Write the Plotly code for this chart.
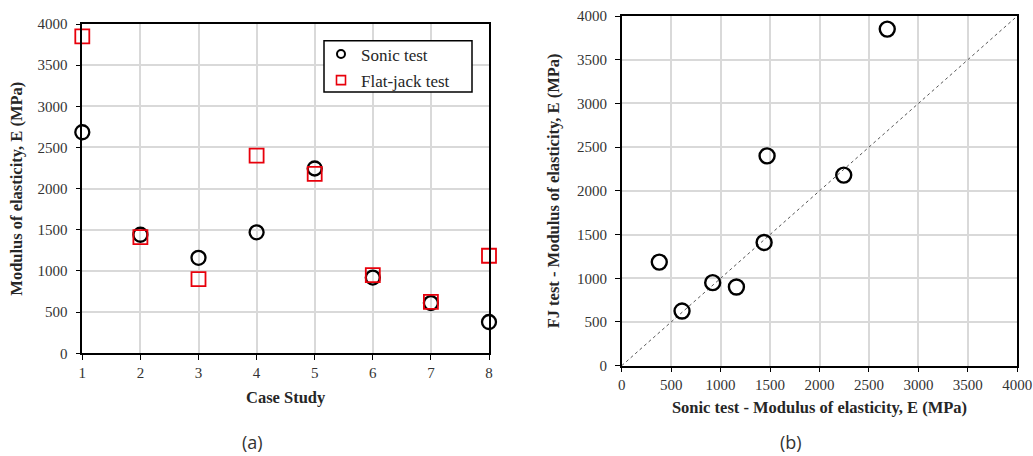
import plotly.graph_objects as go

case_study = [1, 2, 3, 4, 5, 6, 7, 8]
sonic_E = [2685, 1440, 1160, 1470, 2245, 920, 610, 380]
flatjack_E = [3850, 1410, 900, 2400, 2180, 950, 625, 1185]
diag_line = [0, 4000]
tick_vals_E = [0, 500, 1000, 1500, 2000, 2500, 3000, 3500, 4000]
panel_labels = ["(a)", "(b)"]

W, H = 1033, 456
SERIF = "Liberation Serif"
TICK = dict(family=SERIF, size=15, color="#333333")
TITLE = dict(family=SERIF, size=16.5, color="#262626", weight="bold")

fig = go.Figure()

# Panel (a)
fig.add_trace(go.Scatter(x=case_study, y=sonic_E, mode="markers", name="Sonic test",
                         marker=dict(symbol="circle-open", size=14, color="black", line=dict(width=2.3)),
                         cliponaxis=False, showlegend=False, xaxis="x", yaxis="y"))
fig.add_trace(go.Scatter(x=case_study, y=flatjack_E, mode="markers", name="Flat-jack test",
                         marker=dict(symbol="square-open", size=14, color="#e8000b", line=dict(width=1.8)),
                         cliponaxis=False, showlegend=False, xaxis="x", yaxis="y"))
# legend entries
fig.add_trace(go.Scatter(x=[None], y=[None], mode="markers", name="Sonic test", legendgroup="a",
                         marker=dict(symbol="circle-open", size=8, color="black", line=dict(width=2)),
                         xaxis="x", yaxis="y"))
fig.add_trace(go.Scatter(x=[None], y=[None], mode="markers", name="Flat-jack test", legendgroup="b",
                         marker=dict(symbol="square-open", size=9, color="#e8000b", line=dict(width=1.6)),
                         xaxis="x", yaxis="y"))

# Panel (b)
fig.add_trace(go.Scatter(x=diag_line, y=diag_line, mode="lines", showlegend=False,
                         line=dict(color="#555555", width=1, dash="dot"), xaxis="x2", yaxis="y2"))
fig.add_trace(go.Scatter(x=sonic_E, y=flatjack_E, mode="markers", showlegend=False,
                         marker=dict(symbol="circle-open", size=15, color="black", line=dict(width=2.4)),
                         cliponaxis=False, xaxis="x2", yaxis="y2"))

def px_x(v):
    return v / W

def px_y(v):
    return 1 - v / H

common = dict(showline=True, linecolor="black", linewidth=1.5, mirror=True,
              showgrid=True, gridcolor="#d9d9d9", gridwidth=1.5,
              ticks="outside", ticklen=5, tickcolor="black", tickwidth=1.2,
              tickfont=TICK, zeroline=False, automargin=False)

fig.update_layout(
    width=W, height=H,
    margin=dict(l=0, r=0, t=0, b=0),
    paper_bgcolor="white", plot_bgcolor="white",
    xaxis=dict(domain=[px_x(82.3), px_x(489)], range=[1, 8], tickvals=case_study,
               title=dict(text="Case Study", font=TITLE, standoff=11), anchor="y", **common),
    yaxis=dict(domain=[px_y(353.3), px_y(24)], range=[0, 4000], tickvals=tick_vals_E,
               ticklabelstandoff=5,
               title=dict(text="Modulus of elasticity, E (MPa)", font=TITLE, standoff=11), anchor="x", **common),
    xaxis2=dict(domain=[px_x(621.7), px_x(1017.3)], range=[0, 4000], tickvals=tick_vals_E,
                title=dict(text="Sonic test - Modulus of elasticity, E (MPa)", font=TITLE, standoff=9),
                anchor="y2", **common),
    yaxis2=dict(domain=[px_y(365.7), px_y(16)], range=[0, 4000], tickvals=tick_vals_E,
                ticklabelstandoff=5,
                title=dict(text="FJ test - Modulus of elasticity, E (MPa)", font=TITLE, standoff=13),
                anchor="x2", **common),
    legend=dict(x=px_x(321), y=px_y(36.5), xanchor="left", yanchor="top",
                borderwidth=0, bgcolor="rgba(0,0,0,0)",
                font=dict(family=SERIF, size=17, color="#262626"),
                tracegroupgap=1, itemwidth=30),
    showlegend=True,
    shapes=[
        dict(type="rect", xref="paper", yref="paper", layer="above",
             x0=px_x(324), x1=px_x(472), y0=px_y(92), y1=px_y(40.7),
             line=dict(color="black", width=1.5), fillcolor="white"),
    ],
    annotations=[
        dict(text=panel_labels[0], x=px_x(252), y=px_y(442), xref="paper", yref="paper",
             xanchor="center", yanchor="middle",
             showarrow=False, font=dict(family="Open Sans", size=18, color="#333333")),
        dict(text=panel_labels[1], x=px_x(791), y=px_y(442), xref="paper", yref="paper",
             xanchor="center", yanchor="middle",
             showarrow=False, font=dict(family="Open Sans", size=18, color="#333333")),
    ],
)

fig.write_html("out.html", config={"displayModeBar": False},
               post_script="document.body.style.margin='0px';")
